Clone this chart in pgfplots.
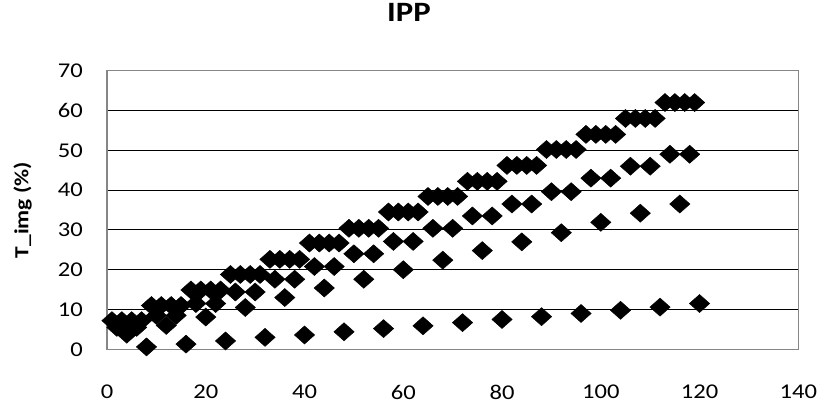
\documentclass[border=0pt]{standalone}
\usepackage{fontspec}
\setmainfont{Carlito}[FakeStretch=1.17]
\usepackage{pgfplots}
\pgfplotsset{compat=1.18}
\usepackage{pgfplotstable}
\definecolor{framegrey}{RGB}{134,134,134}

% frames at odd positions (four per group of eight)
\pgfplotstableread{
x y
1 7.2
3 7.2
5 7.2
7 7.2
9 11.0
11 11.0
13 11.0
15 11.0
17 14.9
19 14.9
21 14.9
23 14.9
25 18.8
27 18.8
29 18.8
31 18.8
33 22.6
35 22.6
37 22.6
39 22.6
41 26.7
43 26.7
45 26.7
47 26.7
49 30.4
51 30.4
53 30.4
55 30.4
57 34.5
59 34.5
61 34.5
63 34.5
65 38.4
67 38.4
69 38.4
71 38.4
73 42.2
75 42.2
77 42.2
79 42.2
81 46.2
83 46.2
85 46.2
87 46.2
89 50.2
91 50.2
93 50.2
95 50.2
97 54.0
99 54.0
101 54.0
103 54.0
105 58.0
107 58.0
109 58.0
111 58.0
113 62.0
115 62.0
117 62.0
119 62.0
}\levelA

% frames at positions 2 and 6 of each group
\pgfplotstableread{
x y
2 5.5
6 5.5
10 8.5
14 8.5
18 11.5
22 11.5
26 14.4
30 14.4
34 17.6
38 17.6
42 20.8
46 20.8
50 24.0
54 24.0
58 27.1
62 27.1
66 30.4
70 30.4
74 33.5
78 33.5
82 36.5
86 36.5
90 39.6
94 39.6
98 43.0
102 43.0
106 46.0
110 46.0
114 49.0
118 49.0
}\levelB

% frames at position 4 of each group
\pgfplotstableread{
x y
4 3.8
12 6.0
20 8.1
28 10.5
36 13.0
44 15.4
52 17.6
60 20.0
68 22.4
76 24.8
84 27.0
92 29.3
100 31.9
108 34.2
116 36.5
}\levelC

% frames at the end of each group
\pgfplotstableread{
x y
8 0.6
16 1.3
24 2.1
32 3.0
40 3.6
48 4.4
56 5.2
64 5.9
72 6.7
80 7.5
88 8.2
96 9.0
104 9.8
112 10.6
120 11.5
}\levelD

\pgfplotsset{
  diamondpts/.style={only marks, mark=diamond*, mark size=9pt,
    mark options={draw=black, fill=black, line width=0.5pt, xscale=1.5}},
}

\begin{document}
\begin{tikzpicture}
\useasboundingbox (0pt,0pt) rectangle (821pt,409pt);
\begin{axis}[
  at={(107pt,59.7pt)}, anchor=south west,
  scale only axis, width=691.3pt, height=278.6pt,
  xmin=0, xmax=140, ymin=0, ymax=70,
  xtick={0,20,...,140}, ytick={0,10,...,70},
  major tick length=0pt,
  ymajorgrids,
  grid style={black, line width=1.1pt},
  axis line style={framegrey, line width=1.2pt},
  tick label style={font=\fontsize{21}{21}\selectfont, text=black,
    /pgf/number format/assume math mode=true},
  yticklabel style={anchor=east, inner sep=0pt, xshift=-24pt},
  xticklabel style={anchor=north, inner sep=0pt, yshift=-35.7pt},
  title={IPP},
  title style={font=\bfseries\fontsize{28}{28}\selectfont,
    at={(axis description cs:0.4369,1)}, anchor=base, yshift=43pt},
  ylabel={T\_img (\%)},
  ylabel style={font=\bfseries\fontsize{20}{20}\selectfont,
    at={(axis description cs:-0.1222,0.5)}, anchor=center},
]
\addplot[diamondpts] table {\levelA};
\addplot[diamondpts] table {\levelB};
\addplot[diamondpts] table {\levelC};
\addplot[diamondpts] table {\levelD};
\end{axis}
\end{tikzpicture}
\end{document}
